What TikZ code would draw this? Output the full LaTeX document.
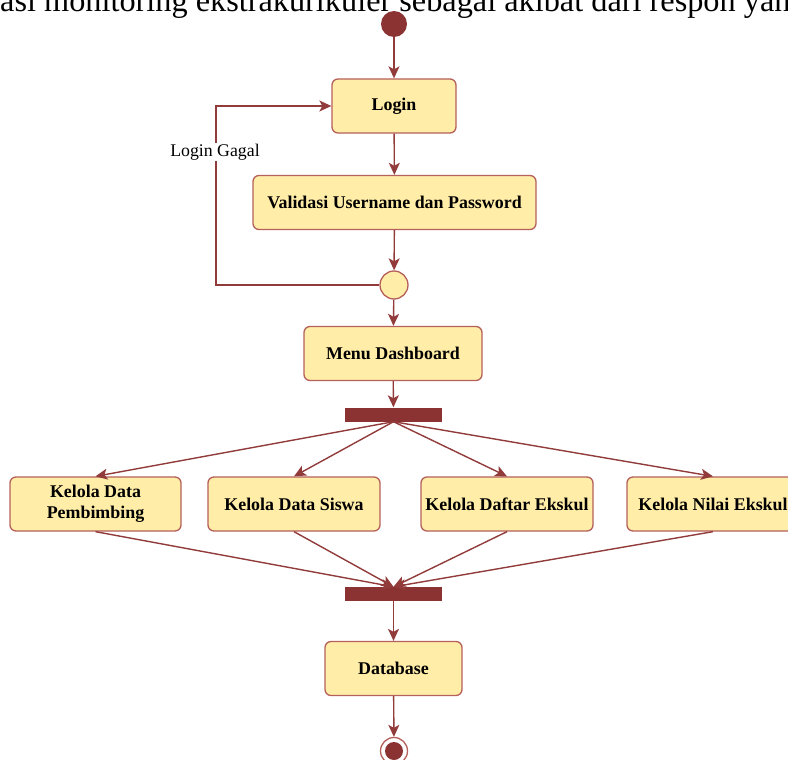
\documentclass[tikz,border=0pt]{standalone}
\usepackage{fontspec}
\setmainfont{Liberation Serif}
\usetikzlibrary{arrows.meta}
\definecolor{actfill}{HTML}{FFEDA8}
\definecolor{actline}{HTML}{B5605A}
\definecolor{flowline}{HTML}{923B3B}
\definecolor{solidred}{HTML}{8B3333}
\tikzset{
  act/.style={draw=actline, fill=actfill, line width=1.3pt, rounded corners=6pt,
    inner sep=0pt, minimum height=54pt, align=center,
    font=\fontsize{17.9}{21}\selectfont\bfseries},
  flow/.style={draw=flowline, line width=1.4pt, -{Stealth[length=12pt,width=11pt,inset=3pt]}},
  syncbar/.style={fill=solidred, draw=none, minimum width=97pt, minimum height=14pt, inner sep=0pt},
  startdot/.style={circle, fill=solidred, draw=none, minimum size=26pt, inner sep=0pt},
  decision/.style={circle, draw=actline, fill=actfill, line width=1.3pt, minimum size=28pt, inner sep=0pt},
}
\begin{document}
\begin{tikzpicture}[x=1pt, y=-1pt]
  \useasboundingbox (0,0) rectangle (788,760);
  \clip (0,0) rectangle (788,760);

  % running text line of the page above the diagram
  \node[anchor=base west, inner sep=0pt, font=\fontsize{32.3}{36}\selectfont] (pagetext) at (0,12)
    {asi monitoring ekstrakurikuler sebagai akibat dari respon yan};

  % nodes
  \node[startdot] (start) at (394,24) {};
  \node[act, minimum width=124pt] (login) at (394,106) {Login};
  \node[act, minimum width=283pt] (valid) at (394.5,202.5) {Validasi Username dan Password};
  \node[decision] (dec) at (394,285) {};
  \node[act, minimum width=178pt] (dash) at (393,353.5) {Menu Dashboard};
  \node[syncbar] (fork) at (393.5,414.5) {};
  \node[act, minimum width=171pt] (k1) at (95.5,504) {Kelola Data\\Pembimbing};
  \node[act, minimum width=172pt] (k2) at (294,504) {Kelola Data Siswa};
  \node[act, minimum width=172pt] (k3) at (507,504) {Kelola Daftar Ekskul};
  \node[act, minimum width=172pt] (k4) at (713,504) {Kelola Nilai Ekskul};
  \node[syncbar] (join) at (393.5,594) {};
  \node[act, minimum width=137pt] (db) at (393.5,668.5) {Database};
  \node[circle, draw=actline, fill=white, line width=1.3pt, minimum size=27pt, inner sep=0pt] (end) at (394,751) {};
  \node[circle, fill=solidred, minimum size=18pt, inner sep=0pt] (enddot) at (end) {};

  % main flow
  \draw[flow] (start) -- (login);
  \draw[flow] (login) -- (valid);
  \draw[flow] (valid) -- (dec);
  \draw[flow] (dec) -- (dash);
  \draw[flow] (dash) -- (fork);

  % failed login loop
  \coordinate (loopx) at (216,0);
  \draw[flow] (dec.west) -- (dec.west -| loopx) |- (login.west);
  \node[fill=white, inner sep=1pt, font=\fontsize{17.8}{21}\selectfont] (gagal) at (215,152) {Login Gagal};

  % fork and join
  \foreach \k in {k1,k2,k3,k4} {
    \draw[flow] (fork.south) -- (\k.north);
    \draw[flow] (\k.south) -- (join.north);
  }
  \draw[flow] (join) -- (db);
  \draw[flow] (db) -- (end);
\end{tikzpicture}
\end{document}
